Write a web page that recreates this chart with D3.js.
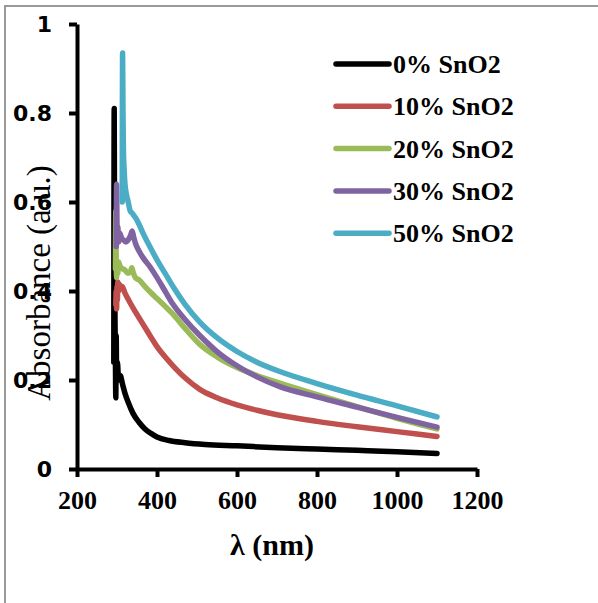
<!DOCTYPE html>
<html>
<head>
<meta charset="utf-8">
<script src="https://cdn.jsdelivr.net/npm/d3@7/dist/d3.min.js"></script>
<style>
	html, body { margin: 0; padding: 0; background: #fff; }
	svg { display: block; }
</style>
</head>
<body>
<script>
"use strict";

// absorbance spectra (wavelength in nm, absorbance in a.u.)
var wl0 = [292, 293, 294, 295, 296, 297, 298, 299, 301, 304, 308, 314, 320, 328, 340, 355, 370, 385, 400, 430, 470, 520, 600, 700, 800, 900, 1000, 1100];
var abs0 = [0.24, 0.81, 0.5, 0.33, 0.25, 0.16, 0.3, 0.21, 0.24, 0.2, 0.21, 0.19, 0.17, 0.15, 0.125, 0.105, 0.09, 0.08, 0.072, 0.064, 0.059, 0.055, 0.052, 0.048, 0.045, 0.042, 0.039, 0.035];

var wl10 = [297, 298, 299, 300, 301, 302, 304, 306, 309, 313, 320, 330, 340, 355, 370, 385, 400, 420, 440, 470, 507, 550, 600, 650, 700, 800, 900, 1000, 1100];
var abs10 = [0.37, 0.4, 0.36, 0.41, 0.38, 0.42, 0.4, 0.415, 0.405, 0.41, 0.395, 0.378, 0.362, 0.34, 0.318, 0.296, 0.275, 0.252, 0.232, 0.205, 0.179, 0.16, 0.144, 0.132, 0.122, 0.107, 0.095, 0.084, 0.073];

var wl20 = [296, 297, 298, 299, 300, 302, 304, 308, 314, 320, 327, 333, 337, 341, 346, 355, 370, 385, 400, 420, 440, 470, 507, 550, 600, 650, 707, 800, 900, 1000, 1100];
var abs20 = [0.45, 0.58, 0.47, 0.43, 0.46, 0.44, 0.465, 0.455, 0.45, 0.447, 0.44, 0.442, 0.452, 0.44, 0.43, 0.425, 0.41, 0.396, 0.383, 0.366, 0.348, 0.316, 0.28, 0.252, 0.228, 0.21, 0.193, 0.167, 0.14, 0.114, 0.09];

var wl30 = [298, 299, 300, 301, 302, 304, 307, 311, 316, 322, 328, 334, 338, 342, 347, 355, 365, 382, 400, 420, 440, 470, 507, 550, 600, 650, 707, 800, 900, 1000, 1100];
var abs30 = [0.5, 0.64, 0.55, 0.52, 0.545, 0.51, 0.53, 0.52, 0.515, 0.51, 0.515, 0.525, 0.535, 0.52, 0.505, 0.49, 0.475, 0.455, 0.43, 0.4, 0.37, 0.336, 0.3, 0.264, 0.232, 0.207, 0.185, 0.162, 0.139, 0.116, 0.094];

var wl50 = [313, 314, 315, 316, 318, 320, 323, 328, 333, 338, 342, 346, 355, 365, 382, 400, 420, 440, 470, 507, 550, 600, 650, 707, 800, 900, 1000, 1100];
var abs50 = [0.6, 0.935, 0.8, 0.72, 0.67, 0.64, 0.62, 0.6, 0.58, 0.575, 0.57, 0.565, 0.55, 0.53, 0.5, 0.47, 0.44, 0.41, 0.37, 0.33, 0.295, 0.264, 0.24, 0.219, 0.192, 0.166, 0.142, 0.117];

var seriesNames = ["0% SnO2", "10% SnO2", "20% SnO2", "30% SnO2", "50% SnO2"];
var seriesWl = [wl0, wl10, wl20, wl30, wl50];
var seriesAbs = [abs0, abs10, abs20, abs30, abs50];
var seriesColors = ["#000000", "#C0504D", "#9BBB59", "#8064A2", "#4BACC6"];

var xTicks = [200, 400, 600, 800, 1000, 1200];
var yTicks = [0, 0.2, 0.4, 0.6, 0.8, 1];

var W = 598, H = 603;
var serif = "'Liberation Serif', 'Times New Roman', serif";

var svg = d3.select("body").append("svg")
	.attr("width", W)
	.attr("height", H);

// outer chart frame (only left/top edges fall inside the window)
svg.append("rect")
	.attr("x", 5)
	.attr("y", 6)
	.attr("width", 800)
	.attr("height", 800)
	.attr("fill", "none")
	.attr("stroke", "#9a9a9a")
	.attr("stroke-width", 2);

var x = d3.scaleLinear().domain([200, 1200]).range([77, 477]);
var y = d3.scaleLinear().domain([0, 1]).range([469, 24]);

// x axis
var gx = svg.append("g")
	.attr("transform", "translate(0," + y(0) + ")")
	.call(d3.axisBottom(x).tickValues(xTicks).tickSize(8).tickSizeOuter(0)
		.tickFormat(function(d) { return String(d); }));
gx.select(".domain").attr("stroke-width", 4);
gx.selectAll(".tick line").attr("stroke-width", 4);
gx.selectAll(".tick text")
	.attr("y", 40)
	.attr("dy", 0)
	.attr("font-family", serif)
	.attr("font-weight", "bold")
	.attr("font-size", 26)
	.attr("fill", "#000");

// y axis
var gy = svg.append("g")
	.attr("transform", "translate(" + x(200) + ",0)")
	.call(d3.axisLeft(y).tickValues(yTicks).tickSize(8).tickSizeOuter(0)
		.tickFormat(function(d) { return String(d); }));
gy.select(".domain").attr("stroke-width", 4);
gy.selectAll(".tick line").attr("stroke-width", 4);
gy.selectAll(".tick text")
	.attr("x", -25)
	.attr("dy", "0.36em")
	.attr("font-family", "'DejaVu Sans', Verdana, sans-serif")
	.attr("font-weight", "bold")
	.attr("font-size", 22)
	.attr("fill", "#000");

// spectra
var line = d3.line()
	.x(function(d) { return x(d[0]); })
	.y(function(d) { return y(d[1]); })
	.curve(d3.curveMonotoneX);

seriesNames.forEach(function(name, i) {
	var pts = seriesWl[i].map(function(w, j) { return [w, seriesAbs[i][j]]; });
	svg.append("path")
		.datum(pts)
		.attr("d", line)
		.attr("fill", "none")
		.attr("stroke", seriesColors[i])
		.attr("stroke-width", 5.5)
		.attr("stroke-linejoin", "round")
		.attr("stroke-linecap", "round");
});

// legend
var legend = svg.append("g");
seriesNames.forEach(function(name, i) {
	var ly = 64 + i * 42.3;
	legend.append("line")
		.attr("x1", 336).attr("x2", 389)
		.attr("y1", ly).attr("y2", ly)
		.attr("stroke", seriesColors[i])
		.attr("stroke-width", 5.5)
		.attr("stroke-linecap", "round");
	legend.append("text")
		.attr("x", 393)
		.attr("y", ly + 9)
		.attr("font-family", serif)
		.attr("font-weight", "bold")
		.attr("font-size", 26)
		.attr("fill", "#000")
		.text(name);
});

// axis titles
svg.append("text")
	.attr("x", 272)
	.attr("y", 555)
	.attr("text-anchor", "middle")
	.attr("font-family", serif)
	.attr("font-weight", "bold")
	.attr("font-size", 30)
	.text("λ (nm)");

svg.append("text")
	.attr("transform", "translate(50,283) rotate(-90)")
	.attr("text-anchor", "middle")
	.attr("font-family", serif)
	.attr("font-size", 33)
	.text("Absorbance (a.u.)");
</script>
</body>
</html>
